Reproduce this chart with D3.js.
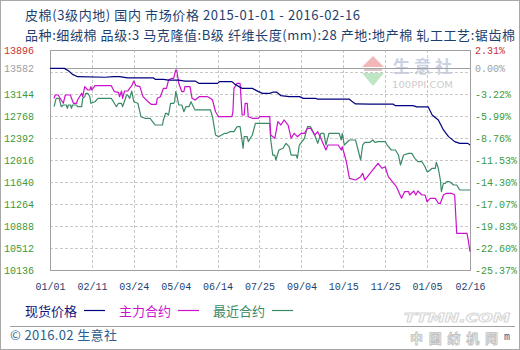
<!DOCTYPE html>
<html><head><meta charset="utf-8">
<script src="https://cdn.jsdelivr.net/npm/d3@7"></script>
<style>body{margin:0;background:#fff}svg{display:block}</style>
</head><body>
<svg id="c" width="520" height="350"></svg>
<script>
const titleLine1 = "皮棉(3级内地) 国内 市场价格 2015-01-01 - 2016-02-16";
const titleLine2 = "品种:细绒棉 品级:3 马克隆值:B级 纤维长度(mm):28 产地:地产棉 轧工工艺:锯齿棉";
const seriesNames = ["现货价格", "主力合约", "最近合约"];
const footerText = "© 2016.02 生意社";
const basePrice = 13582;
const leftTicks = [13896, 13582, 13144, 12768, 12392, 12016, 11640, 11264, 10888, 10512, 10136];
const rightTickLabels = ["2.31%","0.00%","-3.22%","-5.99%","-8.76%","-11.53%","-14.30%","-17.07%","-19.83%","-22.60%","-25.37%"];
const gridValues = [10512, 10888, 11264, 11640, 12016, 12392, 12768, 13144, 13520];
const xTickDates = ["2015-01-01","2015-02-11","2015-03-24","2015-05-04","2015-06-14","2015-07-25","2015-09-04","2015-10-15","2015-11-25","2016-01-05","2016-02-16"];
const xTickLabels = ["01/01","02/11","03/24","05/04","06/14","07/25","09/04","10/15","11/25","01/05","02/16"];

const spotSeries = [
["2015-01-01",13582],["2015-01-15",13582],["2015-01-19",13540],["2015-01-23",13480],["2015-01-28",13440],["2015-02-24",13430],["2015-03-04",13440],["2015-03-10",13440],["2015-03-18",13420],["2015-04-12",13420],["2015-04-14",13395],["2015-04-22",13395],["2015-04-27",13380],["2015-05-07",13380],["2015-05-13",13365],["2015-05-23",13365],["2015-05-27",13325],["2015-06-14",13325],["2015-06-16",13355],["2015-06-28",13355],["2015-07-01",13310],["2015-07-08",13240],["2015-07-18",13240],["2015-07-24",13185],["2015-07-28",13155],["2015-08-04",13155],["2015-08-07",13175],["2015-08-11",13175],["2015-08-15",13115],["2015-08-23",13100],["2015-09-02",13100],["2015-09-06",13070],["2015-09-18",13070],["2015-09-20",13055],["2015-10-21",13055],["2015-10-24",13010],["2015-10-27",12975],["2015-11-10",12970],["2015-12-03",12970],["2015-12-05",12945],["2015-12-22",12945],["2015-12-26",12925],["2016-01-06",12925],["2016-01-10",12785],["2016-01-16",12700],["2016-01-21",12530],["2016-01-26",12415],["2016-02-01",12330],["2016-02-06",12300],["2016-02-14",12300],["2016-02-16",12270]
];

const mainSeries = [
["2015-01-05",13070],["2015-01-06",13127],["2015-01-09",13127],["2015-01-14",12985],["2015-01-16",13127],["2015-01-21",13127],["2015-01-22",13070],["2015-01-24",12985],["2015-01-27",12985],["2015-01-28",13041],["2015-02-01",13156],["2015-02-02",13098],["2015-02-04",13269],["2015-02-07",13212],["2015-02-09",13212],["2015-02-10",13269],["2015-02-11",13212],["2015-02-14",13286],["2015-03-02",13286],["2015-03-05",13183],["2015-03-09",13173],["2015-03-10",13098],["2015-03-12",13195],["2015-03-13",13070],["2015-03-15",13195],["2015-03-18",13195],["2015-03-22",13286],["2015-03-24",13366],["2015-03-26",13286],["2015-03-30",13269],["2015-04-02",13098],["2015-04-07",13012],["2015-04-10",12968],["2015-04-15",12968],["2015-04-16",13070],["2015-04-19",13098],["2015-04-22",13241],["2015-04-25",13241],["2015-04-27",13383],["2015-04-30",13412],["2015-05-02",13412],["2015-05-04",13554],["2015-05-05",13554],["2015-05-07",13327],["2015-05-10",13183],["2015-05-12",13183],["2015-05-13",13269],["2015-05-18",13269],["2015-05-20",13070],["2015-05-23",13041],["2015-05-27",13098],["2015-06-04",13098],["2015-06-07",13070],["2015-06-09",13041],["2015-06-12",12841],["2015-06-15",12756],["2015-06-28",12756],["2015-06-29",12841],["2015-06-30",13241],["2015-07-03",13327],["2015-07-06",13327],["2015-07-08",12785],["2015-07-10",12785],["2015-07-11",12985],["2015-07-13",12985],["2015-07-14",12756],["2015-07-18",12729],["2015-07-24",12729],["2015-07-25",12756],["2015-08-04",12756],["2015-08-05",12443],["2015-08-09",12387],["2015-08-12",12671],["2015-08-15",12614],["2015-08-18",12700],["2015-08-22",12614],["2015-08-25",12387],["2015-08-28",12472],["2015-08-31",12414],["2015-09-04",12472],["2015-09-07",12472],["2015-09-10",12558],["2015-09-13",12558],["2015-09-17",12443],["2015-09-20",12500],["2015-09-23",12387],["2015-09-28",12187],["2015-09-30",12272],["2015-10-10",12272],["2015-10-13",12187],["2015-10-14",12243],["2015-10-18",11987],["2015-10-21",11703],["2015-10-27",11674],["2015-11-01",11731],["2015-11-03",11789],["2015-11-05",11674],["2015-11-09",11760],["2015-11-18",11960],["2015-11-22",11874],["2015-11-25",11901],["2015-11-28",11731],["2015-12-02",11645],["2015-12-06",11560],["2015-12-11",11361],["2015-12-14",11474],["2015-12-18",11474],["2015-12-19",11418],["2015-12-23",11486],["2015-12-25",11418],["2015-12-27",11486],["2015-12-31",11418],["2016-01-03",11418],["2016-01-05",11303],["2016-01-08",11361],["2016-01-13",11361],["2016-01-16",11276],["2016-01-18",11276],["2016-01-21",11418],["2016-01-24",11447],["2016-01-29",11447],["2016-02-01",11418],["2016-02-03",10763],["2016-02-13",10763],["2016-02-14",10678],["2016-02-16",10449]
];

const nearSeries = [
["2015-01-05",12927],["2015-01-07",13070],["2015-01-10",13070],["2015-01-12",12927],["2015-01-14",12956],["2015-01-17",12956],["2015-01-18",12900],["2015-01-19",12956],["2015-01-21",12956],["2015-01-22",12900],["2015-01-23",12956],["2015-01-27",12956],["2015-01-28",12927],["2015-02-01",12927],["2015-02-02",13070],["2015-02-04",13098],["2015-02-05",13156],["2015-02-07",13156],["2015-02-09",13098],["2015-02-10",12985],["2015-02-14",13012],["2015-02-17",13070],["2015-03-02",13070],["2015-03-05",12985],["2015-03-07",12927],["2015-03-09",12985],["2015-03-12",12985],["2015-03-13",12927],["2015-03-17",13127],["2015-03-18",13127],["2015-03-20",13070],["2015-03-22",13195],["2015-03-24",13012],["2015-03-28",12985],["2015-03-31",12756],["2015-04-04",12729],["2015-04-09",12729],["2015-04-10",12700],["2015-04-14",12614],["2015-04-21",12614],["2015-04-22",12700],["2015-04-24",12814],["2015-04-25",12814],["2015-04-27",12785],["2015-04-29",12985],["2015-05-02",12985],["2015-05-03",13012],["2015-05-04",13183],["2015-05-05",13127],["2015-05-07",12956],["2015-05-10",12956],["2015-05-12",12841],["2015-05-14",12927],["2015-05-17",12927],["2015-05-19",13012],["2015-05-22",12900],["2015-05-23",12871],["2015-06-07",12871],["2015-06-09",12756],["2015-06-12",12443],["2015-06-15",12414],["2015-06-18",12443],["2015-06-21",12472],["2015-06-23",12472],["2015-06-26",12500],["2015-06-30",12500],["2015-07-03",12585],["2015-07-06",12585],["2015-07-09",12216],["2015-07-10",12414],["2015-07-13",12414],["2015-07-14",12329],["2015-07-18",12443],["2015-07-21",12643],["2015-07-24",12643],["2015-08-04",12643],["2015-08-05",12358],["2015-08-07",12101],["2015-08-09",12101],["2015-08-10",12016],["2015-08-13",12187],["2015-08-17",12216],["2015-08-20",12301],["2015-08-23",12243],["2015-08-25",12101],["2015-08-30",12101],["2015-08-31",12045],["2015-09-02",12272],["2015-09-07",12387],["2015-09-10",12585],["2015-09-13",12585],["2015-09-17",12443],["2015-09-20",12301],["2015-09-23",12472],["2015-09-26",12472],["2015-09-28",12272],["2015-10-01",12472],["2015-10-11",12472],["2015-10-13",12358],["2015-10-14",12472],["2015-10-16",12272],["2015-10-21",12358],["2015-10-27",12358],["2015-11-01",12016],["2015-11-03",12272],["2015-11-05",12318],["2015-11-10",12318],["2015-11-13",12358],["2015-11-15",12318],["2015-11-18",12329],["2015-11-25",12329],["2015-11-27",12272],["2015-12-01",12187],["2015-12-05",12187],["2015-12-08",12101],["2015-12-10",11930],["2015-12-13",12101],["2015-12-18",12130],["2015-12-21",12130],["2015-12-24",12045],["2015-12-27",11987],["2015-12-31",11987],["2016-01-03",11901],["2016-01-05",11816],["2016-01-06",11816],["2016-01-10",11874],["2016-01-13",11874],["2016-01-14",11977],["2016-01-16",11874],["2016-01-18",11674],["2016-01-19",11474],["2016-01-21",11618],["2016-01-23",11618],["2016-01-24",11645],["2016-01-27",11645],["2016-01-31",11589],["2016-02-03",11589],["2016-02-06",11503],["2016-02-16",11503]
];

const parse = d3.utcParse("%Y-%m-%d");
const svg = d3.select("#c");
const L = 50, R = 470, T = 50, B = 270;
const x = d3.scaleUtc().domain([parse("2015-01-01"), parse("2016-02-16")]).range([L, R]);
const y = d3.scaleLinear().domain([10136, 13896]).range([B, T]);
const mono = "'Liberation Mono','DejaVu Sans Mono',monospace";
const cjk = "'Noto Sans CJK SC','Noto Sans',sans-serif";
const navyText = "#1e3f6e";

// outer frame
svg.append("rect").attr("x",0.5).attr("y",0.5).attr("width",519).attr("height",349)
  .attr("fill","#fff").attr("stroke","#a8a8a8");

// titles
svg.append("text").attr("x",25).attr("y",20).attr("font-family",cjk).attr("font-size",13)
  .attr("fill",navyText).attr("textLength",335).attr("lengthAdjust","spacing").text(titleLine1);
svg.append("text").attr("x",25).attr("y",39.5).attr("font-family",cjk).attr("font-size",13)
  .attr("fill",navyText).attr("textLength",490).attr("lengthAdjust","spacing").text(titleLine2);

// watermark logo
const wm = svg.append("g");
wm.append("path").attr("d","M362,67 L373,56 L384,67 Z").attr("fill","#f2b8b8");
wm.append("rect").attr("x",364).attr("y",68).attr("width",18).attr("height",3).attr("fill","#d8c8c8");
wm.append("path").attr("d","M362,73 L384,73 L373,86 Z").attr("fill","#bfe6c4");
wm.append("text").attr("x",393).attr("y",73).attr("font-family",cjk).attr("font-weight","bold")
  .attr("font-size",17).attr("fill","#c9d1e3").attr("textLength",59).attr("lengthAdjust","spacing").text("生意社");
wm.append("text").attr("x",392).attr("y",88).attr("font-family","'DejaVu Sans',sans-serif")
  .attr("font-size",9.5).attr("fill","#cccccc").attr("textLength",61).attr("lengthAdjust","spacingAndGlyphs").text("100PPI.COM");

// grid
const g = svg.append("g");
g.selectAll("line.h").data(gridValues).join("line").attr("class","h")
  .attr("x1",L).attr("x2",R).attr("y1",d=>Math.round(y(d))+0.5).attr("y2",d=>Math.round(y(d))+0.5)
  .attr("stroke","#c8c8c8").attr("stroke-dasharray","3,2");
g.selectAll("line.v").data(xTickDates.slice(1,-1)).join("line").attr("class","v")
  .attr("y1",T).attr("y2",B).attr("x1",d=>Math.round(x(parse(d)))+0.5).attr("x2",d=>Math.round(x(parse(d)))+0.5)
  .attr("stroke","#c8c8c8").attr("stroke-dasharray","3,2");
// zero line
g.append("line").attr("x1",L).attr("x2",R).attr("y1",Math.round(y(basePrice))+0.5).attr("y2",Math.round(y(basePrice))+0.5)
  .attr("stroke","#a0a0a0");
// frame
g.append("rect").attr("x",L+0.5).attr("y",T+0.5).attr("width",R-L).attr("height",B-T)
  .attr("fill","none").attr("stroke","#a0a0a0");

// lines
const line = d3.line().x(d=>x(parse(d[0]))).y(d=>y(d[1]));
const colors = ["#00007f","#cc11cc","#3a8a66"];
[nearSeries, mainSeries, spotSeries].forEach((s,i)=>{
  const c = colors[2-i];
  svg.append("path").datum(s).attr("d",line).attr("fill","none")
    .attr("stroke",c).attr("stroke-width",1.2).attr("stroke-linejoin","round");
});

// axes
const tickColorL = d => d===13896 ? "#c83232" : d===basePrice ? "#a0a0a0" : "#3c9a3c";
const axL = svg.append("g").attr("transform",`translate(${L},0)`)
  .call(d3.axisLeft(y).tickValues(leftTicks).tickSize(0).tickPadding(16).tickFormat(d=>String(d)));
axL.select(".domain").remove();
axL.selectAll("text").attr("font-family",mono).attr("font-size",10).attr("fill",tickColorL);

const axR = svg.append("g").attr("transform",`translate(${R},0)`)
  .call(d3.axisRight(y).tickValues(leftTicks).tickSize(0).tickPadding(5).tickFormat((d,i)=>rightTickLabels[i]));
axR.select(".domain").remove();
axR.selectAll("text").attr("font-family",mono).attr("font-size",10).attr("fill",tickColorL);

const axB = svg.append("g").attr("transform",`translate(0,${B})`)
  .call(d3.axisBottom(x).tickValues(xTickDates.map(parse)).tickSize(0).tickPadding(13).tickFormat((d,i)=>xTickLabels[i]));
axB.select(".domain").remove();
axB.selectAll("text").attr("font-family",mono).attr("font-size",10).attr("fill",navyText);

// legend
const legX = [25, 119, 213];
const legTextColors = ["#141480","#cc11cc","#3a8a66"];
seriesNames.forEach((n,i)=>{
  svg.append("text").attr("x",legX[i]).attr("y",315.5).attr("font-family",cjk).attr("font-size",13)
    .attr("fill",legTextColors[i]).text(n);
  svg.append("line").attr("x1",legX[i]+59).attr("x2",legX[i]+80).attr("y1",310.5).attr("y2",310.5)
    .attr("stroke",colors[i]).attr("stroke-width",1.2);
});

// footer
svg.append("line").attr("x1",10).attr("x2",515).attr("y1",326.5).attr("y2",326.5).attr("stroke","#a0a0a0");
svg.append("text").attr("x",10).attr("y",340).attr("font-family",cjk).attr("font-size",13)
  .attr("fill","#2a5f8f").attr("textLength",107).attr("lengthAdjust","spacing").text(footerText);

// bottom-right watermark
svg.append("text").attr("x",404).attr("y",322).attr("font-family","'DejaVu Sans',sans-serif")
  .attr("font-weight","bold").attr("font-style","italic").attr("font-size",13)
  .attr("fill","#ffffff").attr("stroke","#d8d8d8").attr("stroke-width",1)
  .attr("textLength",106).attr("lengthAdjust","spacingAndGlyphs").text("TTMN.COM");
svg.append("text").attr("x",410).attr("y",343).attr("font-family",cjk).attr("font-weight","bold")
  .attr("font-size",13).attr("fill","#f4f4f4").attr("stroke","#c0c0c0").attr("stroke-width",0.8)
  .attr("textLength",88).attr("lengthAdjust","spacing").text("中国纺机网");
svg.append("text").attr("x",504).attr("y",340).attr("font-family",mono).attr("font-size",10)
  .attr("fill","#2a5f8f").text("m");
</script>
</body></html>
